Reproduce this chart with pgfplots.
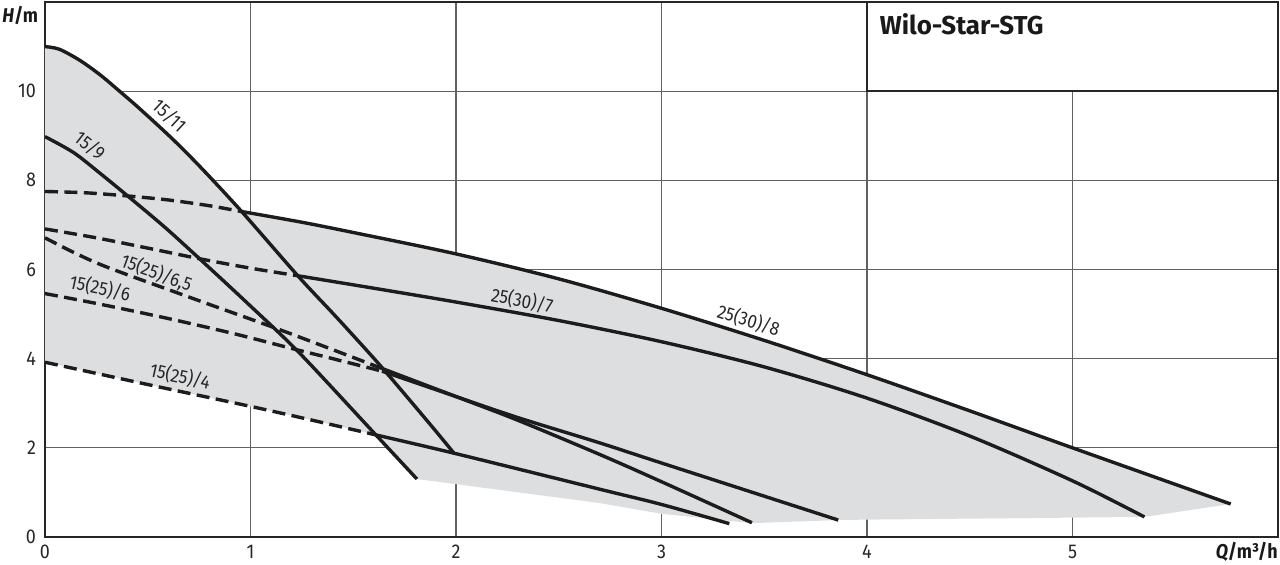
\documentclass[border=0pt]{standalone}
\usepackage{pgfplots}
\pgfplotsset{compat=1.18}
\usepackage{fontspec}
\setmainfont{Fira Sans}[FakeStretch=0.9]
\newfontfamily\titlefont{Fira Sans}
\definecolor{fillg}{RGB}{221,222,224}
\definecolor{ln}{RGB}{28,28,28}
\newcommand{\lbl}{\fontsize{9.5}{11}\selectfont}
\begin{document}
\begin{tikzpicture}
\useasboundingbox (-22.5bp,-14bp) rectangle (617.5bp,268.5bp);
\begin{axis}[
  at={(0,0)}, anchor=south west,
  scale only axis, width=616.5bp, height=267.5bp,
  xmin=0, xmax=6, ymin=0, ymax=12,
  xtick={0,1,2,3,4,5}, ytick={0,2,4,6,8,10},
  grid=major, grid style={black!62, line width=0.6bp},
  axis line style={black!85, line width=1.1bp},
  major tick length=0pt,
  tick label style={font=\fontsize{10}{12}\selectfont, text=black!85},
  /pgf/number format/assume math mode=true,
  xticklabel style={yshift=-0.5bp},
  yticklabel style={xshift=-1bp},
  clip=false,
  sol/.style={line width=1.7bp, draw=ln, mark=none, solid, line join=round, line cap=butt, smooth, tension=0.5},
  dsh/.style={sol, dash pattern=on 6.5bp off 3.2bp},
]
% shaded envelope
\addplot[fill=fillg, draw=none, mark=none] coordinates {
 (0,11.0) (0.07,10.94) (0.17,10.69) (0.27,10.36) (0.36,10.01) (0.46,9.61) (0.62,8.93) (0.76,8.28) (0.957,7.30)
 (1.25,7.06) (1.5,6.83) (2.0,6.35) (2.5,5.79) (3.0,5.13) (3.5,4.41) (4.0,3.64) (4.5,2.83) (5.0,2.0) (5.77,0.74)
 (5.35,0.45) (4.0,0.39) (3.86,0.38) (3.44,0.31) (3.0,0.52) (2.7,0.76) (1.81,1.30)
 (1.61,2.29) (1.3,2.62) (1.0,2.93) (0.5,3.42) (0,3.92)
} -- cycle;

% 15/11
\addplot[sol] coordinates {(0,11.0) (0.07,10.94) (0.17,10.69) (0.27,10.36) (0.36,10.01) (0.46,9.61) (0.62,8.93) (0.76,8.28) (0.957,7.30) (1.23,5.86) (1.39,5.07) (1.48,4.62) (1.64,3.8) (1.87,2.55) (1.99,1.88)};
% 15/9
\addplot[sol] coordinates {(0,8.98) (0.14,8.62) (0.27,8.15) (0.41,7.62) (0.59,6.92) (0.79,6.08) (1.0,5.18) (1.24,4.12) (1.61,2.29) (1.81,1.30)};
% 25(30)/8
\addplot[dsh] coordinates {(0,7.75) (0.2,7.72) (0.4,7.65) (0.6,7.56) (0.8,7.43) (0.957,7.30)};
\addplot[sol] coordinates {(0.957,7.30) (1.25,7.06) (1.5,6.83) (2.0,6.35) (2.5,5.79) (3.0,5.13) (3.5,4.41) (4.0,3.64) (4.5,2.83) (5.0,2.0) (5.77,0.74)};
% 25(30)/7
\addplot[dsh] coordinates {(0,6.91) (0.25,6.71) (0.5,6.48) (0.754,6.24) (1.0,6.03) (1.23,5.86)};
\addplot[sol] coordinates {(1.23,5.86) (1.6,5.58) (2.0,5.27) (2.5,4.855) (3.0,4.38) (3.5,3.815) (4.0,3.115) (4.5,2.265) (5.0,1.26) (5.35,0.45)};
% 15(25)/6,5
\addplot[dsh] coordinates {(0,6.71) (0.15,6.36) (0.315,6.03) (0.75,5.30) (1.16,4.62) (1.64,3.78)};
\addplot[sol] coordinates {(1.64,3.78) (2.0,3.15) (2.3,2.62) (2.7,1.85) (3.0,1.24) (3.44,0.32)};
% 15(25)/6
\addplot[dsh] coordinates {(0,5.46) (0.27,5.22) (0.6,4.9) (0.92,4.56) (1.2,4.23) (1.4,4.0) (1.64,3.72)};
\addplot[sol] coordinates {(1.64,3.72) (2.0,3.15) (2.3,2.68) (2.7,2.11) (3.0,1.66) (3.86,0.38)};
% 15(25)/4
\addplot[dsh] coordinates {(0,3.92) (0.5,3.42) (1.0,2.93) (1.3,2.62) (1.61,2.29)};
\addplot[sol] coordinates {(1.61,2.29) (1.99,1.88) (2.71,1.06) (3.0,0.73) (3.33,0.30)};

% curve labels
\begin{scope}[every node/.style={font=\lbl, text=black!85, inner sep=0pt}]
\node[rotate=-43] at (axis cs:0.605,9.45) {15/11};
\node[rotate=-38] at (axis cs:0.218,8.78) {15/9};
\node[rotate=-20] at (axis cs:0.543,5.92) {15(25)/6,5};
\node[rotate=-12] at (axis cs:0.268,5.58) {15(25)/6};
\node[rotate=-12.5] at (axis cs:0.657,3.6) {15(25)/4};
\node[rotate=-11] at (axis cs:2.322,5.3) {25(30)/7};
\node[rotate=-17] at (axis cs:3.424,4.86) {25(30)/8};
\end{scope}

% title box
\draw[black!85, line width=1bp, fill=white] (axis cs:4,10) rectangle (axis cs:6,12);
\node[anchor=base west, inner sep=0pt, font=\titlefont\fontsize{13}{15}\selectfont\bfseries, text=black!90] at (axis cs:4.061,11.26) {Wilo-Star-STG};

% axis labels
\node[anchor=base west, inner sep=0pt, font=\fontsize{10}{12}\selectfont\bfseries, text=black!90] at (axis cs:-0.209,11.55) {\textit{H}/m};
\node[anchor=base east, inner sep=0pt, font=\fontsize{10}{12}\selectfont\bfseries, text=black!90] at (axis cs:6.0,-0.48) {\textit{Q}/m³/h};
\end{axis}
\end{tikzpicture}
\end{document}
